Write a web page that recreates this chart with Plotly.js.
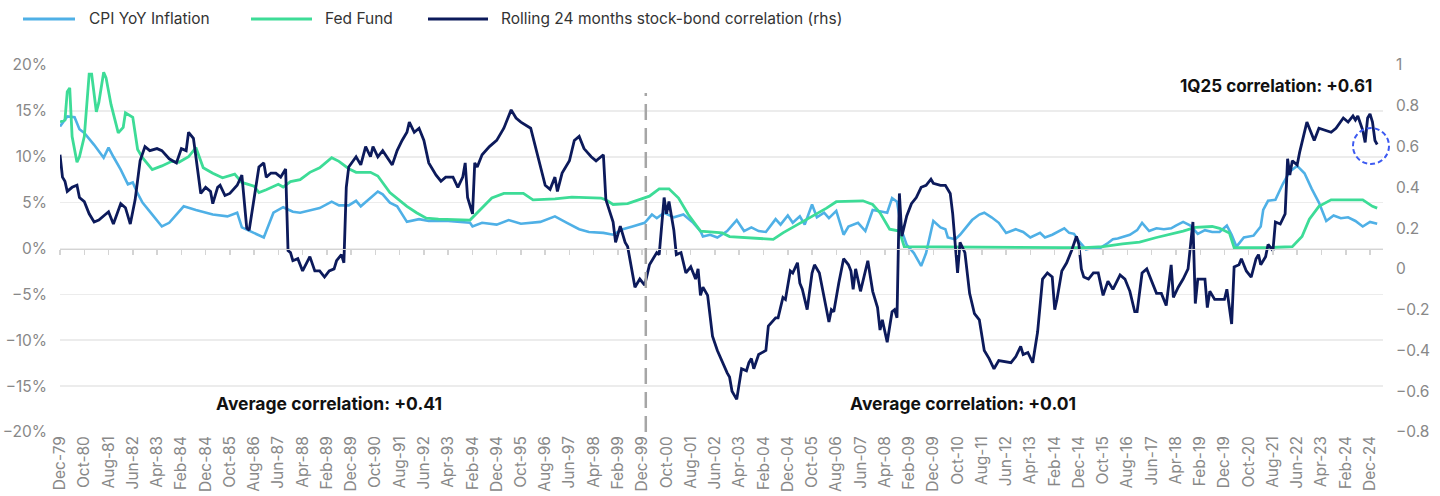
<!DOCTYPE html>
<html><head><meta charset="utf-8">
<script src="https://cdn.plot.ly/plotly-3.0.1.min.js"></script>
<style>html,body{margin:0;padding:0;background:#fff}#chart{width:1440px;height:496px}</style>
</head><body><div id="chart"></div>
<script>
// ---- Series names ----
const seriesNames = ['CPI YoY Inflation', 'Fed Fund', 'Rolling 24 months stock-bond correlation (rhs)'];

// ---- CPI YoY inflation (%, left axis) ----
const cpiDates = ['1979-12','1980-03','1980-06','1980-08','1980-10','1981-02','1981-06','1981-08','1981-10','1982-01','1982-04','1982-06','1982-08','1982-10','1983-02','1983-06','1983-09','1984-03','1984-08','1985-03','1985-09','1986-01','1986-03','1986-08','1986-12','1987-04','1987-08','1987-12','1988-03','1988-11','1989-04','1989-07','1989-11','1990-02','1990-04','1990-11','1991-01','1991-04','1991-07','1991-11','1992-04','1992-08','1993-04','1994-01','1994-02','1994-06','1994-12','1995-05','1995-10','1996-06','1996-12','1997-05','1997-10','1998-02','1998-08','1998-12','1999-04','1999-08','2000-01','2000-04','2000-06','2000-09','2001-01','2001-05','2001-09','2001-12','2002-01','2002-04','2002-07','2002-11','2003-03','2003-06','2003-09','2003-12','2004-03','2004-07','2004-09','2004-12','2005-02','2005-05','2005-07','2005-10','2005-12','2006-03','2006-05','2006-08','2006-11','2007-01','2007-05','2007-08','2007-11','2008-03','2008-05','2008-07','2008-09','2008-11','2009-01','2009-04','2009-07','2009-09','2009-11','2009-12','2010-03','2010-05','2010-06','2010-09','2010-11','2011-01','2011-04','2011-07','2011-09','2011-12','2012-03','2012-06','2012-10','2013-01','2013-04','2013-08','2013-10','2014-01','2014-06','2014-08','2014-10','2014-12','2015-03','2015-06','2015-09','2015-12','2016-02','2016-04','2016-07','2016-09','2016-12','2017-02','2017-05','2017-08','2017-11','2018-02','2018-04','2018-07','2018-10','2019-01','2019-04','2019-07','2019-10','2020-01','2020-03','2020-05','2020-08','2020-12','2021-03','2021-04','2021-06','2021-09','2021-12','2022-03','2022-06','2022-09','2022-12','2023-03','2023-06','2023-09','2023-12','2024-03','2024-06','2024-09','2024-12','2025-03'];
const cpiValues = [13.3,14.4,14.3,13.0,12.6,11.3,9.9,11.0,10.0,8.6,7.0,7.2,6.0,5.0,3.7,2.4,2.8,4.6,4.2,3.7,3.5,3.9,2.3,1.7,1.2,3.9,4.5,4.0,3.9,4.4,5.1,4.7,4.7,5.2,4.6,6.2,5.9,5.0,4.6,2.9,3.2,3.0,3.0,2.8,2.4,2.8,2.6,3.1,2.7,2.9,3.5,2.8,2.1,1.8,1.7,1.5,2.1,2.4,2.8,3.7,3.3,3.9,3.4,3.7,2.8,1.9,1.3,1.5,1.2,1.9,3.1,1.9,2.3,1.9,1.8,3.2,2.6,3.6,2.8,3.5,2.6,4.8,3.4,3.9,3.3,4.1,1.5,2.4,2.8,1.9,4.2,4.0,3.9,5.5,5.1,1.9,0.4,-0.5,-1.9,-0.5,2.0,3.0,2.3,2.1,1.2,1.0,1.5,2.2,3.1,3.7,3.9,3.4,2.8,1.7,2.1,1.8,1.2,1.7,1.2,1.5,2.2,1.7,1.6,0.8,-0.1,0.1,0.1,0.6,1.0,1.1,1.3,1.5,2.0,2.8,1.9,2.2,2.1,2.2,2.5,2.9,2.5,1.6,2.0,1.8,1.8,2.5,1.5,0.2,1.2,1.4,2.4,4.2,5.2,5.3,7.0,8.4,9.0,8.2,6.5,5.0,3.0,3.6,3.3,3.4,3.0,2.4,2.9,2.7];

// ---- Fed Funds rate (%, left axis) ----
const fedDates = ['1979-12','1980-02','1980-03','1980-04','1980-05','1980-07','1980-08','1980-10','1980-12','1981-01','1981-03','1981-04','1981-06','1981-07','1981-09','1981-12','1982-02','1982-03','1982-06','1982-08','1982-10','1983-02','1983-06','1983-10','1984-01','1984-05','1984-08','1984-11','1985-03','1985-07','1985-12','1986-03','1986-08','1986-10','1987-01','1987-06','1987-08','1987-11','1988-03','1988-07','1988-11','1989-04','1989-07','1989-11','1990-02','1990-08','1990-11','1991-04','1991-11','1992-03','1992-07','1992-12','1994-01','1994-05','1994-10','1995-03','1995-11','1996-03','1996-12','1997-07','1998-07','1998-09','1998-12','1999-06','1999-11','2000-03','2000-07','2000-11','2001-03','2001-07','2001-12','2002-09','2002-12','2003-07','2004-06','2004-10','2005-04','2005-10','2006-04','2006-08','2007-07','2007-11','2008-02','2008-06','2008-10','2008-12','2010-06','2012-06','2014-06','2015-02','2015-10','2016-06','2017-01','2017-08','2018-03','2018-07','2018-12','2019-07','2019-10','2020-02','2020-04','2021-06','2022-04','2022-08','2022-11','2023-03','2023-08','2024-09','2025-01','2025-03'];
const fedValues = [13.8,14.0,17.1,17.5,12.2,9.4,10.0,12.2,19.0,19.0,14.9,15.9,19.2,18.6,15.7,12.6,13.2,14.8,14.3,10.8,9.9,8.6,9.0,9.5,9.4,10.0,11.0,8.8,8.2,7.7,8.1,7.2,6.8,6.1,6.4,7.0,6.7,7.3,7.5,8.3,8.8,9.9,9.5,8.7,8.3,8.3,7.9,6.1,4.6,3.9,3.3,3.2,3.1,4.2,5.5,6.0,6.0,5.3,5.4,5.6,5.5,5.3,4.8,4.9,5.3,5.7,6.5,6.5,5.5,3.7,1.9,1.7,1.3,1.2,1.0,1.7,2.6,3.5,4.4,5.1,5.2,4.8,3.9,2.1,1.9,0.2,0.15,0.15,0.1,0.1,0.2,0.5,0.7,1.2,1.6,1.9,2.3,2.4,2.2,1.7,0.1,0.1,0.2,1.3,3.2,4.6,5.3,5.3,4.6,4.4];

// ---- Rolling 24-month stock-bond correlation (right axis) ----
const corrDates = ['1979-12','1980-01','1980-02','1980-03','1980-05','1980-07','1980-08','1980-10','1980-12','1981-02','1981-04','1981-06','1981-08','1981-10','1982-01','1982-03','1982-05','1982-07','1982-09','1982-11','1983-01','1983-04','1983-06','1983-09','1983-12','1984-02','1984-04','1984-05','1984-07','1984-08','1984-10','1984-12','1985-02','1985-03','1985-05','1985-06','1985-08','1985-10','1986-01','1986-03','1986-05','1986-06','1986-08','1986-10','1986-12','1987-01','1987-03','1987-05','1987-07','1987-09','1987-10','1987-11','1987-12','1988-02','1988-04','1988-07','1988-09','1988-11','1989-01','1989-03','1989-05','1989-06','1989-08','1989-09','1989-10','1989-11','1990-02','1990-04','1990-06','1990-08','1990-09','1990-11','1991-01','1991-05','1991-07','1991-09','1991-11','1991-12','1992-02','1992-04','1992-06','1992-08','1992-11','1993-01','1993-03','1993-06','1993-08','1993-10','1993-11','1993-12','1994-02','1994-03','1994-04','1994-06','1994-09','1994-12','1995-03','1995-05','1995-06','1995-08','1995-10','1996-02','1996-04','1996-06','1996-08','1996-10','1996-12','1997-01','1997-03','1997-06','1997-08','1997-10','1997-12','1998-03','1998-05','1998-08','1998-09','1998-12','1999-01','1999-03','1999-05','1999-06','1999-09','1999-11','2000-01','2000-03','2000-06','2000-07','2000-09','2000-10','2000-11','2001-01','2001-02','2001-04','2001-06','2001-08','2001-10','2001-11','2001-12','2002-01','2002-03','2002-05','2002-07','2002-11','2002-12','2003-01','2003-03','2003-05','2003-07','2003-08','2003-09','2003-10','2003-12','2004-03','2004-04','2004-07','2004-08','2004-10','2004-11','2005-01','2005-02','2005-04','2005-05','2005-06','2005-08','2005-10','2005-11','2006-01','2006-02','2006-05','2006-06','2006-07','2006-09','2006-11','2007-01','2007-02','2007-03','2007-04','2007-06','2007-08','2007-09','2007-11','2008-01','2008-02','2008-03','2008-05','2008-07','2008-08','2008-09','2008-10','2008-11','2009-01','2009-03','2009-05','2009-07','2009-09','2009-11','2009-12','2010-03','2010-05','2010-07','2010-08','2010-09','2010-10','2010-11','2011-01','2011-03','2011-05','2011-07','2011-09','2011-11','2012-01','2012-03','2012-08','2012-10','2012-12','2013-01','2013-03','2013-05','2013-07','2013-09','2013-11','2014-01','2014-02','2014-03','2014-05','2014-07','2014-09','2014-11','2014-12','2015-01','2015-02','2015-04','2015-06','2015-08','2015-10','2015-12','2016-02','2016-05','2016-07','2016-09','2016-11','2016-12','2017-02','2017-04','2017-06','2017-08','2017-10','2017-12','2018-02','2018-03','2018-05','2018-07','2018-09','2018-11','2018-12','2019-01','2019-04','2019-05','2019-06','2019-08','2019-12','2020-01','2020-03','2020-04','2020-06','2020-07','2020-09','2020-11','2021-01','2021-02','2021-03','2021-05','2021-06','2021-08','2021-09','2021-11','2022-01','2022-02','2022-03','2022-04','2022-06','2022-07','2022-10','2023-01','2023-03','2023-06','2023-08','2023-10','2024-01','2024-03','2024-05','2024-06','2024-07','2024-09','2024-10','2024-11','2024-12','2025-01','2025-02','2025-03'];
const corrValues = [0.56,0.45,0.43,0.38,0.40,0.41,0.35,0.33,0.27,0.23,0.24,0.26,0.28,0.22,0.32,0.30,0.22,0.34,0.53,0.60,0.58,0.59,0.58,0.54,0.52,0.59,0.58,0.67,0.64,0.55,0.37,0.40,0.38,0.32,0.40,0.41,0.36,0.37,0.41,0.46,0.20,0.19,0.35,0.50,0.52,0.45,0.47,0.47,0.45,0.49,0.09,0.08,0.04,0.05,-0.01,0.06,-0.01,-0.01,-0.04,-0.01,0.00,0.04,0.07,0.03,0.40,0.50,0.55,0.51,0.60,0.55,0.60,0.55,0.58,0.51,0.58,0.63,0.67,0.72,0.67,0.69,0.63,0.52,0.46,0.43,0.45,0.45,0.40,0.45,0.52,0.35,0.27,0.52,0.50,0.56,0.60,0.63,0.69,0.75,0.78,0.74,0.72,0.69,0.60,0.50,0.41,0.39,0.45,0.38,0.47,0.53,0.63,0.65,0.59,0.55,0.53,0.56,0.34,0.23,0.13,0.21,0.13,0.11,-0.09,-0.05,-0.08,0.02,0.08,0.07,0.35,0.27,0.33,0.19,0.07,0.08,-0.02,0.01,-0.05,0.00,-0.13,-0.09,-0.13,-0.33,-0.40,-0.51,-0.53,-0.60,-0.64,-0.49,-0.50,-0.46,-0.44,-0.49,-0.42,-0.40,-0.28,-0.24,-0.24,-0.14,-0.15,-0.01,-0.02,0.03,-0.07,-0.10,-0.20,-0.02,0.02,-0.02,-0.08,-0.26,-0.20,-0.21,-0.07,0.05,0.02,-0.01,-0.10,0.00,-0.11,-0.01,0.04,-0.11,-0.19,-0.30,-0.25,-0.36,-0.21,-0.20,-0.24,0.37,0.16,0.26,0.32,0.35,0.40,0.41,0.44,0.42,0.41,0.41,0.37,0.27,0.13,-0.02,0.13,0.08,-0.12,-0.22,-0.25,-0.40,-0.44,-0.49,-0.45,-0.46,-0.43,-0.38,-0.42,-0.41,-0.46,-0.31,-0.05,-0.02,-0.04,-0.20,-0.15,-0.01,0.03,0.09,0.16,0.12,0.00,-0.04,-0.05,-0.02,-0.02,-0.13,-0.06,-0.10,-0.03,-0.05,-0.11,-0.21,-0.21,-0.02,0.00,-0.06,-0.12,-0.12,-0.18,0.02,-0.14,-0.09,-0.05,0.00,0.23,-0.17,-0.05,-0.05,-0.19,-0.11,-0.15,-0.15,-0.10,-0.27,0.01,0.02,0.05,-0.01,-0.04,0.05,0.07,0.02,0.06,0.12,0.09,0.23,0.22,0.27,0.54,0.46,0.53,0.51,0.57,0.72,0.63,0.69,0.68,0.67,0.69,0.74,0.72,0.75,0.73,0.75,0.68,0.62,0.74,0.76,0.72,0.63,0.61];

// ---- Annotation texts / markers ----
const splitDate = '2000-01-15';
const leftLabel = 'Average correlation: +0.41';
const rightLabel = 'Average correlation: +0.01';
const latestLabel = '1Q25 correlation: +0.61';

const colCPI = '#4fb0e6', colFed = '#3ddc97', colCorr = '#0c1a5b';
const FONT = 'Inter, "Open Sans", Arial, sans-serif';
const xStart = '1979-12-01', xEnd = '2025-05-13';

const traces = [
  {x: cpiDates, y: cpiValues, name: seriesNames[0], type: 'scatter', mode: 'lines',
   line: {color: colCPI, width: 2.6}, xaxis: 'x', yaxis: 'y', showlegend: false},
  {x: fedDates, y: fedValues, name: seriesNames[1], type: 'scatter', mode: 'lines',
   line: {color: colFed, width: 2.8}, xaxis: 'x', yaxis: 'y', showlegend: false},
  {x: corrDates, y: corrValues, name: seriesNames[2], type: 'scatter', mode: 'lines',
   line: {color: colCorr, width: 2.8}, xaxis: 'x', yaxis: 'y2', showlegend: false},
  {x: [cpiDates[0]], y: [null], xaxis: 'x2', yaxis: 'y', type: 'scatter', mode: 'lines',
   showlegend: false, hoverinfo: 'skip'}
];

// custom legend (line swatch + text), paper coordinates
const legendItems = [
  {x0: 23, x1: 75, tx: 87, color: colCPI, text: seriesNames[0]},
  {x0: 251, x1: 312, tx: 323, color: colFed, text: seriesNames[1]},
  {x0: 428, x1: 488, tx: 499, color: colCorr, text: seriesNames[2]}
];
const PL = 60, PW = 1323, PT = 65, PH = 367;
const px = v => (v - PL) / PW;
const py = v => (PT + PH - v) / PH;

const shapes = [
  {type: 'line', xref: 'x', yref: 'paper', x0: splitDate, x1: splitDate, y0: 0, y1: py(93),
   line: {color: '#a6a6a6', width: 2.5, dash: '16px,8px'}},
  {type: 'circle', xref: 'paper', yref: 'paper', xsizemode: 'pixel', ysizemode: 'pixel',
   xanchor: px(1371), yanchor: py(146), x0: -18, x1: 18, y0: -18, y1: 18,
   line: {color: '#3d5af1', width: 2, dash: '5px,3px'}}
];
const annotations = [
  {xref: 'paper', yref: 'paper', x: px(1374), y: py(86), xanchor: 'right', yanchor: 'middle',
   text: '<b>' + latestLabel + '</b>', showarrow: false, font: {family: FONT, size: 17, color: '#111'}},
  {xref: 'paper', yref: 'paper', x: px(329), y: py(403), xanchor: 'center', yanchor: 'middle',
   text: '<b>' + leftLabel + '</b>', showarrow: false, font: {family: FONT, size: 17.5, color: '#111'}},
  {xref: 'paper', yref: 'paper', x: px(963), y: py(403), xanchor: 'center', yanchor: 'middle',
   text: '<b>' + rightLabel + '</b>', showarrow: false, font: {family: FONT, size: 17.5, color: '#111'}}
];
legendItems.forEach(it => {
  shapes.push({type: 'line', xref: 'paper', yref: 'paper', x0: px(it.x0), x1: px(it.x1),
    y0: py(19), y1: py(19), line: {color: it.color, width: 3}});
  annotations.push({xref: 'paper', yref: 'paper', x: px(it.tx), y: py(19), xanchor: 'left',
    yanchor: 'middle', text: it.text, showarrow: false, font: {family: FONT, size: 15.5, color: '#333'}});
});

const layout = {
  width: 1440, height: 496,
  margin: {l: PL, r: 1440 - PL - PW, t: PT, b: 496 - PT - PH},
  paper_bgcolor: '#fff', plot_bgcolor: '#fff',
  showlegend: false,
  font: {family: FONT, color: '#888'},
  xaxis: {type: 'date', range: [xStart, xEnd], tick0: xStart, dtick: 'M10', tickformat: '%b-%y',
    tickangle: -90, showgrid: false, zeroline: false, showline: false, ticks: '',
    tickfont: {family: FONT, size: 15.5, color: '#888'}, fixedrange: true},
  xaxis2: {type: 'date', overlaying: 'x', matches: 'x', anchor: 'free', position: 0.5,
    range: [xStart, xEnd], tick0: xStart, dtick: 'M10', showticklabels: false,
    ticks: 'outside', ticklen: 5, tickwidth: 1.5, tickcolor: '#d4d4d4',
    showline: true, linecolor: '#d4d4d4', linewidth: 1.5, showgrid: false, zeroline: false},
  yaxis: {range: [-20, 20], dtick: 5, ticksuffix: '%', showgrid: true, gridcolor: '#ececec',
    gridwidth: 1.6, zeroline: false, showline: false, ticks: '', ticklabelstandoff: 12,
    tickfont: {family: FONT, size: 15.5, color: '#888'}},
  yaxis2: {range: [-0.8, 1], dtick: 0.2, overlaying: 'y', side: 'right', showgrid: false,
    zeroline: false, showline: false, ticks: '', ticklabelstandoff: 12,
    tickfont: {family: FONT, size: 15.5, color: '#888'}},
  shapes: shapes,
  annotations: annotations
};

Plotly.newPlot('chart', traces, layout, {displayModeBar: false, staticPlot: true});
</script></body></html>
